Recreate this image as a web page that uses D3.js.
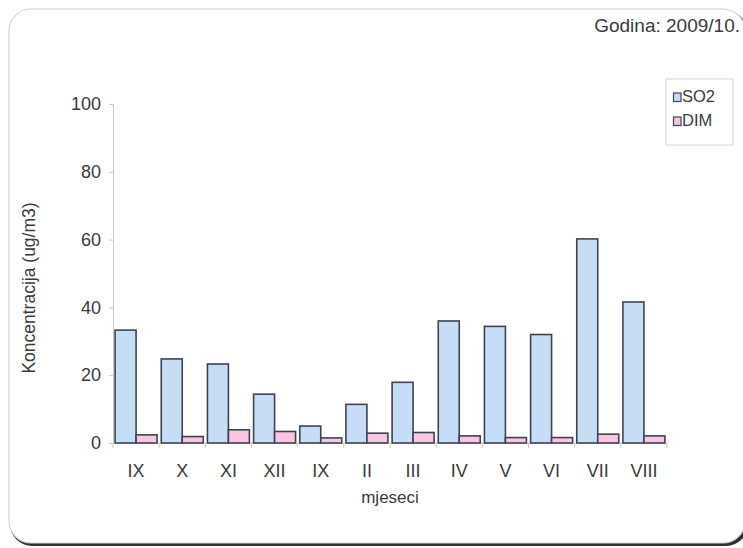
<!DOCTYPE html>
<html><head><meta charset="utf-8">
<script src="https://cdn.jsdelivr.net/npm/d3@7"></script>
<style>body{margin:0;background:#fff;}svg{display:block;font-family:"Liberation Sans",Arial,sans-serif;}</style>
</head><body>
<svg id="c" width="743" height="548"></svg>
<script>
const categories = ["IX","X","XI","XII","IX","II","III","IV","V","VI","VII","VIII"];
const so2 = [33.3,24.8,23.3,14.4,5.0,11.4,17.9,36.0,34.4,32.0,60.2,41.6];
const dim = [2.4,1.9,3.9,3.4,1.5,2.9,3.1,2.1,1.6,1.6,2.6,2.1];
const seriesNames = ["SO2","DIM"];
const yTicks = [0,20,40,60,80,100];

const svg = d3.select("#c");
const txt = "#3a3a3a";
// frame
svg.append("rect").attr("x",10).attr("y",11).attr("width",738).attr("height",535).attr("rx",22)
  .attr("fill","#2e2e33");
svg.append("rect").attr("x",9).attr("y",9).attr("width",736).attr("height",534).attr("rx",22)
  .attr("fill","#fff").attr("stroke","#d4d4d4").attr("stroke-width",1.2);

const x0 = 113, x1 = 667, yTop = 104, yBot = 443;
const x = d3.scaleBand().domain(d3.range(categories.length)).range([x0,x1]).paddingInner(0).paddingOuter(0);
const y = d3.scaleLinear().domain([0,100]).range([yBot,yTop]);
const inner = d3.scaleBand().domain(seriesNames).range([0,x.bandwidth()]).paddingOuter(0.1).paddingInner(0);
const colors = {SO2:"#c7ddf6", DIM:"#f7c7e2"};

// axes
const yAxis = d3.axisLeft(y).tickValues(yTicks).tickSize(4).tickPadding(8);
const gy = svg.append("g").attr("transform",`translate(${x0},0)`).call(yAxis);
gy.select(".domain").attr("stroke","#c8c8c8");
gy.selectAll(".tick line").attr("stroke","#c8c8c8");
gy.selectAll(".tick text").attr("font-size",18).attr("fill",txt).attr("font-family","Liberation Sans, Arial, sans-serif");

const gx = svg.append("g").attr("transform",`translate(0,${yBot})`);
gx.append("line").attr("x1",x0).attr("x2",x1).attr("stroke","#c8c8c8");
gx.selectAll("line.t").data(d3.range(categories.length+1)).join("line").attr("class","t")
  .attr("x1",i=>x0+i*x.bandwidth()).attr("x2",i=>x0+i*x.bandwidth()).attr("y1",0).attr("y2",5).attr("stroke","#c8c8c8");
gx.selectAll("text").data(categories).join("text")
  .attr("x",(d,i)=>x(i)+x.bandwidth()/2).attr("y",34).attr("text-anchor","middle")
  .attr("font-size",18).attr("fill",txt).attr("font-family","Liberation Sans Narrow, Liberation Sans, Arial, sans-serif").text(d=>d);

// bars
const data = categories.map((c,i)=>({i, SO2:so2[i], DIM:dim[i]}));
const g = svg.append("g");
data.forEach(d=>{
  seriesNames.forEach(s=>{
    g.append("rect").attr("x",x(d.i)+inner(s)).attr("width",inner.bandwidth())
      .attr("y",y(d[s])).attr("height",y(0)-y(d[s]))
      .attr("fill",colors[s]).attr("stroke","#3d4350").attr("stroke-width",1.6);
  });
});

// labels
svg.append("text").attr("transform","translate(35,288) rotate(-90)").attr("text-anchor","middle")
  .attr("font-size",17.5).attr("fill",txt).text("Koncentracija (ug/m3)");
svg.append("text").attr("x",390).attr("y",503).attr("text-anchor","middle")
  .attr("font-size",17).attr("fill",txt).text("mjeseci");
svg.append("text").attr("x",740).attr("y",32).attr("text-anchor","end").attr("font-size",19).attr("fill",txt)
  .text("Godina: 2009/10.");

// legend
const lg = svg.append("g");
lg.append("rect").attr("x",666).attr("y",79).attr("width",67).attr("height",66).attr("fill","#fff").attr("stroke","#d8d8d8");
seriesNames.forEach((s,k)=>{
  const yy = 93 + k*24;
  lg.append("rect").attr("x",673.5).attr("y",yy).attr("width",7.5).attr("height",8.5)
    .attr("fill",colors[s]).attr("stroke","#3d4350").attr("stroke-width",1.2);
  lg.append("text").attr("x",682).attr("y",yy+9).attr("font-size",16.5).attr("fill",txt).text(s);
});
</script>
</body></html>
